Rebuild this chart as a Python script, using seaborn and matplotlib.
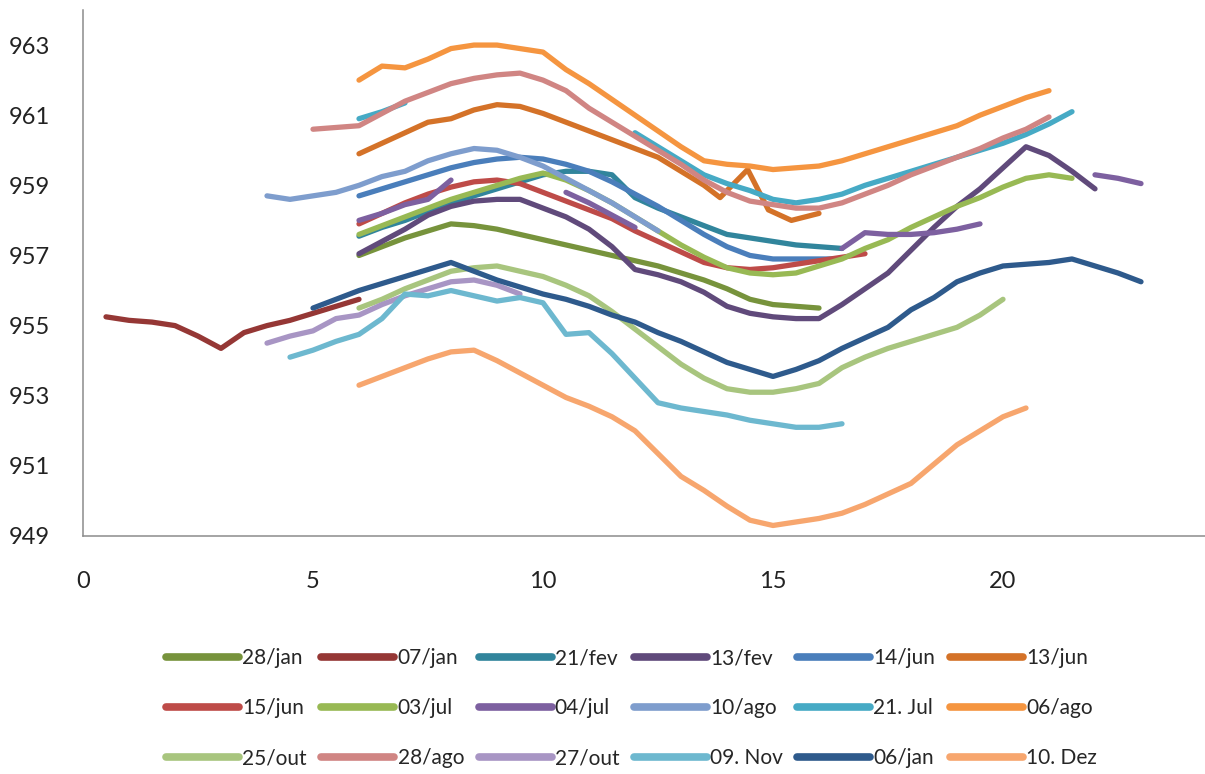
import matplotlib
matplotlib.use("Agg")
import matplotlib.pyplot as plt
from matplotlib.lines import Line2D
import numpy as np
import pandas as pd
import seaborn as sns

# ---- measurements: hour of day vs. pressure (hPa); None marks a gap ----
jan28_x = [6, 6.5, 7, 7.5, 8, 8.5, 9, 9.5, 10, 10.5, 11, 11.5, 12, 12.5, 13, 13.5, 14, 14.5, 15, 15.5, 16]
jan28_y = [957.0, 957.25, 957.5, 957.7, 957.9, 957.85, 957.75, 957.6, 957.45, 957.3, 957.15, 957.0,
           956.85, 956.7, 956.5, 956.3, 956.05, 955.75, 955.6, 955.55, 955.5]

jan07_x = [0.5, 1, 1.5, 2, 2.5, 3, 3.5, 4, 4.5, 5, 5.5, 6]
jan07_y = [955.25, 955.15, 955.1, 955.0, 954.7, 954.35, 954.8, 955.0, 955.15, 955.35, 955.55, 955.75]

fev21_x = [6, 6.5, 7, 7.5, 8, 8.5, 9, 9.5, 10, 10.5, 11, 11.5, 12, 12.5, 13, 13.5, 14, 14.5, 15, 15.5, 16, 16.5]
fev21_y = [957.55, 957.8, 958.0, 958.25, 958.5, 958.7, 958.9, 959.1, 959.3, 959.4, 959.4, 959.3,
           958.65, 958.35, 958.1, 957.85, 957.6, 957.5, 957.4, 957.3, 957.25, 957.2]

fev13_x = [6, 6.5, 7, 7.5, 8, 8.5, 9, 9.5, 10, 10.5, 11, 11.5, 12, 12.5, 13, 13.5, 14, 14.5, 15, 15.5,
           16, 16.5, 17, 17.5, 18, 18.5, 19, 19.5, 20, 20.5, 21, 21.5, 22]
fev13_y = [957.05, 957.4, 957.75, 958.15, 958.4, 958.55, 958.6, 958.6, 958.35, 958.1, 957.75, 957.25,
           956.6, 956.45, 956.25, 955.95, 955.55, 955.35, 955.25, 955.2, 955.2, 955.6, 956.05, 956.5,
           957.15, 957.8, 958.4, 958.9, 959.5, 960.1, 959.85, 959.4, 958.9]

jun14_x = [6, 6.5, 7, 7.5, 8, 8.5, 9, 9.5, 10, 10.5, 11, 11.5, 12, 12.5, 13, 13.5, 14, 14.5, 15, 15.5, 16, 16.3]
jun14_y = [958.7, 958.9, 959.1, 959.3, 959.5, 959.65, 959.75, 959.8, 959.75, 959.6, 959.4, 959.1,
           958.75, 958.4, 958.0, 957.6, 957.25, 957.0, 956.9, 956.9, 956.9, 956.9]

jun13_x = [6, 6.5, 7, 7.5, 8, 8.5, 9, 9.5, 10, 10.5, 11, 11.5, 12, 12.5, 13, 13.5, 13.85, 14.45, 14.9, 15.4, 16]
jun13_y = [959.9, 960.2, 960.5, 960.8, 960.9, 961.15, 961.3, 961.25, 961.05, 960.8, 960.55, 960.3,
           960.05, 959.8, 959.4, 959.0, 958.65, 959.45, 958.3, 958.0, 958.2]

jun15_x = [6, 6.5, 7, 7.5, 8, 8.5, 9, 9.5, 10, 10.5, 11, 11.5, 12, 12.5, 13, 13.5, 14, 14.5, 15, 15.5, 16, 16.5, 17]
jun15_y = [957.9, 958.2, 958.5, 958.75, 958.95, 959.1, 959.15, 959.05, 958.8, 958.55, 958.3, 958.05,
           957.7, 957.4, 957.1, 956.8, 956.65, 956.6, 956.65, 956.75, 956.85, 956.95, 957.05]

jul03_x = [6, 6.5, 7, 7.5, 8, 8.5, 9, 9.5, 10, 10.5, 11, 11.5, 12, 12.5, 13, 13.5, 14, 14.5, 15, 15.5,
           16, 16.5, 17, 17.5, 18, 18.5, 19, 19.5, 20, 20.5, 21, 21.5]
jul03_y = [957.6, 957.85, 958.1, 958.35, 958.6, 958.8, 959.0, 959.2, 959.35, 959.15, 958.85, 958.5,
           958.1, 957.7, 957.3, 956.95, 956.65, 956.5, 956.45, 956.5, 956.7, 956.9, 957.2, 957.45,
           957.8, 958.1, 958.4, 958.65, 958.95, 959.2, 959.3, 959.2]

jul04_x = [6, 6.5, 7, 7.5, 8, 9, 10.5, 11, 11.5, 12, 14, 16.5, 17, 17.5, 18, 18.5, 19, 19.5, 21, 22, 22.5, 23]
jul04_y = [958.0, 958.2, 958.45, 958.6, 959.15, None, 958.8, 958.5, 958.15, 957.8, None,
           957.2, 957.65, 957.6, 957.6, 957.65, 957.75, 957.9, None, 959.3, 959.2, 959.05]

ago10_x = [4, 4.5, 5, 5.5, 6, 6.5, 7, 7.5, 8, 8.5, 9, 9.5, 10, 10.5, 11, 11.5, 12, 12.5]
ago10_y = [958.7, 958.6, 958.7, 958.8, 959.0, 959.25, 959.4, 959.7, 959.9, 960.05, 960.0, 959.8,
           959.55, 959.2, 958.85, 958.5, 958.1, 957.7]

jul21_x = [6, 6.5, 7, 9, 12, 12.5, 13, 13.5, 14, 14.5, 15, 15.5, 16, 16.5, 17, 17.5, 18, 18.5, 19,
           19.5, 20, 20.5, 21, 21.5]
jul21_y = [960.9, 961.1, 961.35, None, 960.5, 960.1, 959.7, 959.3, 959.05, 958.85, 958.6, 958.5,
           958.6, 958.75, 959.0, 959.2, 959.4, 959.6, 959.8, 960.0, 960.2, 960.45, 960.75, 961.1]

ago06_x = [6, 6.5, 7, 7.5, 8, 8.5, 9, 9.5, 10, 10.5, 11, 11.5, 12, 12.5, 13, 13.5, 14, 14.5, 15, 15.5,
           16, 16.5, 17, 17.5, 18, 18.5, 19, 19.5, 20, 20.5, 21]
ago06_y = [962.0, 962.4, 962.35, 962.6, 962.9, 963.0, 963.0, 962.9, 962.8, 962.3, 961.9, 961.45,
           961.0, 960.55, 960.1, 959.7, 959.6, 959.55, 959.45, 959.5, 959.55, 959.7, 959.9, 960.1,
           960.3, 960.5, 960.7, 961.0, 961.25, 961.5, 961.7]

out25_x = [6, 6.5, 7, 7.5, 8, 8.5, 9, 9.5, 10, 10.5, 11, 11.5, 12, 12.5, 13, 13.5, 14, 14.5, 15, 15.5,
           16, 16.5, 17, 17.5, 18, 18.5, 19, 19.5, 20]
out25_y = [955.5, 955.75, 956.05, 956.3, 956.55, 956.65, 956.7, 956.55, 956.4, 956.15, 955.85, 955.4,
           954.9, 954.4, 953.9, 953.5, 953.2, 953.1, 953.1, 953.2, 953.35, 953.8, 954.1, 954.35,
           954.55, 954.75, 954.95, 955.3, 955.75]

ago28_x = [5, 5.5, 6, 6.5, 7, 7.5, 8, 8.5, 9, 9.5, 10, 10.5, 11, 11.5, 12, 12.5, 13, 13.5, 14, 14.5,
           15, 15.5, 16, 16.5, 17, 17.5, 18, 18.5, 19, 19.5, 20, 20.5, 21]
ago28_y = [960.6, 960.65, 960.7, 961.05, 961.4, 961.65, 961.9, 962.05, 962.15, 962.2, 962.0, 961.7,
           961.2, 960.8, 960.4, 960.0, 959.6, 959.15, 958.8, 958.55, 958.45, 958.35, 958.35, 958.5,
           958.75, 959.0, 959.3, 959.55, 959.8, 960.05, 960.35, 960.6, 960.95]

out27_x = [4, 4.5, 5, 5.5, 6, 6.5, 7, 7.5, 8, 8.5, 9, 9.5]
out27_y = [954.5, 954.7, 954.85, 955.2, 955.3, 955.6, 955.85, 956.05, 956.25, 956.3, 956.15, 955.9]

nov09_x = [4.5, 5, 5.5, 6, 6.5, 7, 7.5, 8, 8.5, 9, 9.5, 10, 10.5, 11, 11.5, 12, 12.5, 13, 13.5, 14,
           14.5, 15, 15.5, 16, 16.5]
nov09_y = [954.1, 954.3, 954.55, 954.75, 955.2, 955.9, 955.85, 956.0, 955.85, 955.7, 955.8, 955.65,
           954.75, 954.8, 954.2, 953.5, 952.8, 952.65, 952.55, 952.45, 952.3, 952.2, 952.1, 952.1, 952.2]

jan06_x = [5, 5.5, 6, 6.5, 7, 7.5, 8, 8.5, 9, 9.5, 10, 10.5, 11, 11.5, 12, 12.5, 13, 13.5, 14, 14.5,
           15, 15.5, 16, 16.5, 17, 17.5, 18, 18.5, 19, 19.5, 20, 20.5, 21, 21.5, 22, 22.5, 23]
jan06_y = [955.5, 955.75, 956.0, 956.2, 956.4, 956.6, 956.8, 956.55, 956.3, 956.1, 955.9, 955.75,
           955.55, 955.3, 955.1, 954.8, 954.55, 954.25, 953.95, 953.75, 953.55, 953.75, 954.0, 954.35,
           954.65, 954.95, 955.45, 955.8, 956.25, 956.5, 956.7, 956.75, 956.8, 956.9, 956.7, 956.5, 956.25]

dez10_x = [6, 6.5, 7, 7.5, 8, 8.5, 9, 9.5, 10, 10.5, 11, 11.5, 12, 12.5, 13, 13.5, 14, 14.5, 15, 15.5,
           16, 16.5, 17, 17.5, 18, 18.5, 19, 19.5, 20, 20.5]
dez10_y = [953.3, 953.55, 953.8, 954.05, 954.25, 954.3, 954.0, 953.65, 953.3, 952.95, 952.7, 952.4,
           952.0, 951.35, 950.7, 950.3, 949.85, 949.45, 949.3, 949.4, 949.5, 949.65, 949.9, 950.2,
           950.5, 951.05, 951.6, 952.0, 952.4, 952.65]

labels = ["28/jan", "07/jan", "21/fev", "13/fev", "14/jun", "13/jun",
          "15/jun", "03/jul", "04/jul", "10/ago", "21. Jul", "06/ago",
          "25/out", "28/ago", "27/out", "09. Nov", "06/jan", "10. Dez"]
series_x = [jan28_x, jan07_x, fev21_x, fev13_x, jun14_x, jun13_x,
            jun15_x, jul03_x, jul04_x, ago10_x, jul21_x, ago06_x,
            out25_x, ago28_x, out27_x, nov09_x, jan06_x, dez10_x]
series_y = [jan28_y, jan07_y, fev21_y, fev13_y, jun14_y, jun13_y,
            jun15_y, jul03_y, jul04_y, ago10_y, jul21_y, ago06_y,
            out25_y, ago28_y, out27_y, nov09_y, jan06_y, dez10_y]
colors = ["#77933C", "#953735", "#31859C", "#604A7B", "#4A7EBB", "#D47228",
          "#BE4B48", "#98B954", "#7D60A0", "#7E9DCD", "#46AAC5", "#F59540",
          "#A8C57E", "#D08583", "#A895C4", "#6DB8CF", "#2E5A8C", "#F7A66E"]

# long-form table; each run of values between gaps becomes its own unit
rows = []
for lab, xs, ys in zip(labels, series_x, series_y):
    seg = 0
    for x, y in zip(xs, ys):
        if y is None:
            seg += 1
            continue
        rows.append({"serie": lab, "segment": f"{lab}-{seg}", "hora": x, "pressao": y})
df = pd.DataFrame(rows)

sns.set_theme(style="white")
plt.rcParams["font.family"] = ["Lato", "DejaVu Sans"]

fig = plt.figure(figsize=(12.05, 7.74), dpi=100)
ax = fig.add_axes([83 / 1205, 1 - 536 / 774, 1 - 83 / 1205, 526 / 774])

sns.lineplot(data=df, x="hora", y="pressao", hue="serie", units="segment",
             estimator=None, sort=False, hue_order=labels,
             palette=dict(zip(labels, colors)), linewidth=3.8,
             solid_capstyle="round", solid_joinstyle="round",
             legend=False, ax=ax)

ax.set_xlim(0, 1122 / 46)
ax.set_ylim(949, 964)
ax.set_xticks([0, 5, 10, 15, 20])
ax.set_yticks([949, 951, 953, 955, 957, 959, 961, 963])
ax.set_xlabel("")
ax.set_ylabel("")
ax.tick_params(axis="x", length=0, pad=25, labelsize=17, colors="#222222")
ax.tick_params(axis="y", length=0, pad=24, labelsize=17, colors="#222222")
for side in ("top", "right"):
    ax.spines[side].set_visible(False)
for side in ("left", "bottom"):
    ax.spines[side].set_color("#8C8C8C")
    ax.spines[side].set_linewidth(1.1)

# legend in row-major order: 3 rows of 6
handles = [Line2D([], [], color=c, linewidth=5.5, solid_capstyle="round") for c in colors]
order = [r * 6 + c for c in range(6) for r in range(3)]
fig.legend([handles[i] for i in order], [labels[i] for i in order],
           ncol=6, loc="center", bbox_to_anchor=(0.524, 0.085), frameon=False,
           fontsize=15, handlelength=3.5, handletextpad=0.15, columnspacing=0.7,
           labelspacing=1.45, borderpad=0)

fig.savefig("out.png", dpi=100, facecolor="white")
